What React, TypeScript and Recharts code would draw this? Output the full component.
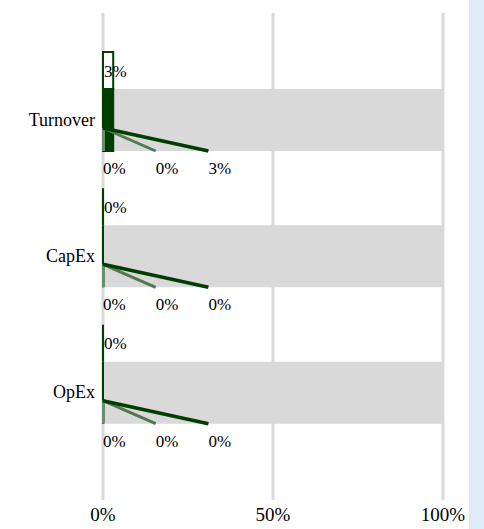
import React from 'react';
import { BarChart, Bar, XAxis, YAxis, CartesianGrid } from 'recharts';

const categories = ['Turnover', 'CapEx', 'OpEx'];
const headlineValues = [3, 0, 0];
const eligibleValues = [3, 0, 0];
const fullScale = [100, 100, 100];
const enablingValues = [0, 0, 0];
const transitionalValues = [0, 0, 0];
const alignedValues = [3, 0, 0];
const xTicks = [0, 50, 100];

const DARK = '#003d00';
const MID = '#4f7a4f';
const LIGHT = '#6a8f6a';
const GRAY = '#d9d9d9';
const FONT = '"Liberation Serif", "Times New Roman", serif';

const data = categories.map((name, i) => ({
  name,
  headline: headlineValues[i],
  eligible: eligibleValues[i],
  full: fullScale[i],
  enabling: enablingValues[i],
  transitional: transitionalValues[i],
  aligned: alignedValues[i],
}));

const TopShape = (props: any) => {
  const { x, y, width, height, payload } = props;
  const w = Math.max(width || 0, 0);
  return (
    <g>
      <path d={`M${x},${y}h${w}v${height}h${-w}Z`} fill="#fff" stroke={DARK} strokeWidth={2} />
      <text x={x + 1} y={y + height / 2 + 6} fontSize={17} fontFamily={FONT} fill="#000">
        {`${payload.headline}%`}
      </text>
    </g>
  );
};

const MainShape = (props: any) => {
  const { x, y, width, height } = props;
  const w = Math.max(width || 0, 0);
  return <path d={`M${x},${y}h${w}v${height}h${-w}Z`} fill={DARK} stroke={DARK} strokeWidth={2} />;
};

const BottomShape = (props: any) => {
  const { x, y, width, payload } = props;
  const rise = 23;
  const xs = [x, x + width * 0.155, x + width * 0.31];
  const vals = [payload.enabling, payload.transitional, payload.aligned];
  return (
    <g>
      <rect x={x - 1} y={y - rise} width={3} height={rise} fill={LIGHT} />
      <line x1={x} y1={y - rise} x2={xs[1]} y2={y} stroke={MID} strokeWidth={3} />
      <line x1={x} y1={y - rise} x2={xs[2]} y2={y} stroke={DARK} strokeWidth={3.5} />
      {vals.map((v, i) => (
        <text key={i} x={xs[i]} y={y + 23} fontSize={17} fontFamily={FONT} fill="#000">
          {`${v}%`}
        </text>
      ))}
    </g>
  );
};

export default function App() {
  return (
    <div style={{ position: 'absolute', left: 0, top: 0, width: 484, height: 529, background: '#fff' }}>
      <BarChart
        width={469}
        height={529}
        data={data}
        layout="vertical"
        margin={{ top: 13, right: 26, bottom: 0, left: 0 }}
        barGap={0}
        barCategoryGap={0}
      >
        <CartesianGrid horizontal={false} stroke={GRAY} strokeWidth={3} />
        <XAxis
          type="number"
          domain={[0, 100]}
          ticks={xTicks}
          tickFormatter={(v: number) => `${v}%`}
          axisLine={false}
          tickLine={false}
          height={29}
          tick={{ fontSize: 19, fill: '#000', fontFamily: FONT }}
        />
        <YAxis
          type="category"
          dataKey="name"
          width={103}
          axisLine={false}
          tickLine={false}
          padding={{ top: 38, bottom: 40 }}
          tick={{ fontSize: 18, fill: '#000', fontFamily: FONT }}
        />
        <Bar dataKey="headline" barSize={37} shape={TopShape} isAnimationActive={false} />
        <Bar dataKey="eligible" barSize={62} shape={MainShape} background={{ fill: GRAY }} isAnimationActive={false} />
        <Bar dataKey="full" barSize={36} shape={BottomShape} isAnimationActive={false} />
      </BarChart>
      <div style={{ position: 'absolute', left: 469, top: 0, width: 15, height: 529, background: '#deeaf6' }} />
    </div>
  );
}
